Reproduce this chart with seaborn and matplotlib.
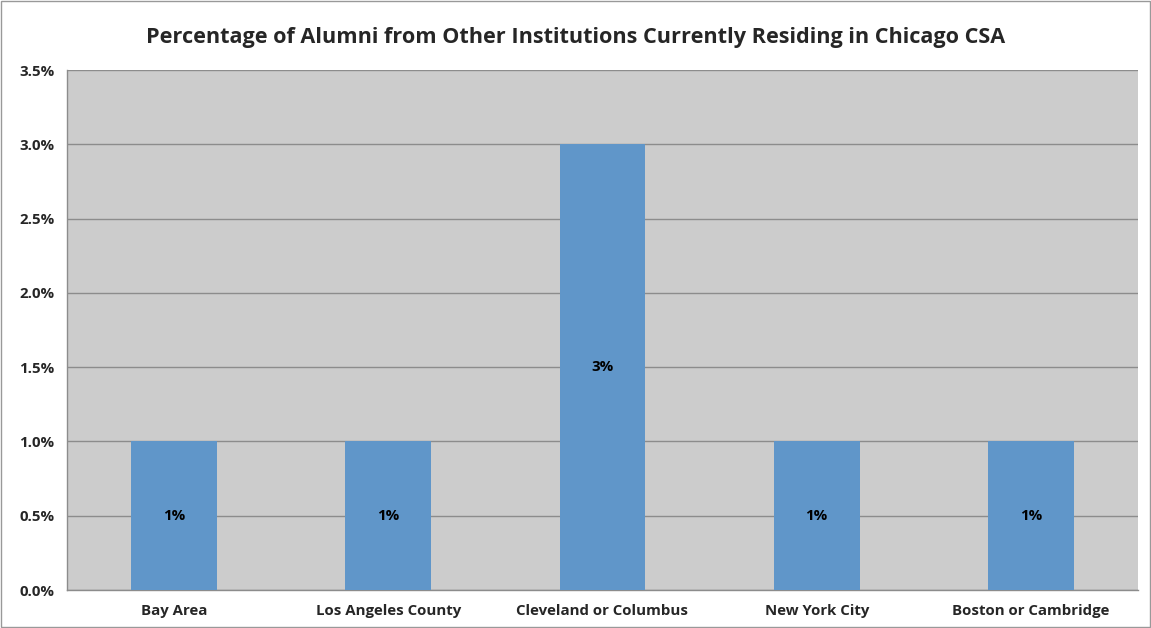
import matplotlib
matplotlib.use("Agg")
import matplotlib.pyplot as plt
import matplotlib.ticker as mticker
import seaborn as sns
import pandas as pd

# data
categories = ["Bay Area", "Los Angeles County", "Cleveland or Columbus",
              "New York City", "Boston or Cambridge"]
percent = [0.01, 0.01, 0.03, 0.01, 0.01]
bar_labels = ["1%", "1%", "3%", "1%", "1%"]

df = pd.DataFrame({"region": categories, "pct": percent})

sns.set_style("white")
plt.rcParams["font.family"] = ["Open Sans", "DejaVu Sans"]

fig = plt.figure(figsize=(11.51, 6.28), dpi=100)
ax = fig.add_axes([0.0582, 0.0605, 0.9305, 0.828])
ax.set_facecolor("#cccccc")

sns.barplot(data=df, x="region", y="pct", color="#6096c9", width=0.4,
            saturation=1, ax=ax, zorder=3, edgecolor="none", linewidth=0)

# labels in the middle of each bar
for i, (v, lab) in enumerate(zip(percent, bar_labels)):
    ax.text(i, v / 2, lab, ha="center", va="center", fontsize=10.8,
            fontweight="bold", color="black", zorder=4)

ax.set_ylim(0, 0.035)
ax.set_xlim(-0.5, 4.5)
ax.yaxis.set_major_locator(mticker.MultipleLocator(0.005))
ax.yaxis.set_major_formatter(mticker.FuncFormatter(lambda v, p: f"{v*100:.1f}%"))
ax.grid(axis="y", color="#8c8c8c", linewidth=1, zorder=1)
ax.set_axisbelow(True)

# tick marks between categories
ax.set_xticks(range(len(categories)))
ax.set_xticklabels(categories, fontsize=10.8, fontweight="bold")
ax.xaxis.set_minor_locator(mticker.FixedLocator([-0.5, 0.5, 1.5, 2.5, 3.5, 4.5]))
ax.tick_params(axis="x", which="major", length=0, pad=10)
ax.tick_params(axis="x", which="minor", length=5, color="#8c8c8c", direction="out")
ax.tick_params(axis="y", length=5, color="#8c8c8c", direction="out", labelsize=10.8, pad=4)
for t in ax.get_yticklabels():
    t.set_fontweight("bold")

ax.set_xlabel("")
ax.set_ylabel("")
for s in ["top", "right"]:
    ax.spines[s].set_visible(False)
for s in ["left", "bottom"]:
    ax.spines[s].set_color("#8c8c8c")
    ax.spines[s].set_linewidth(1)

fig.text(0.5, 0.94, "Percentage of Alumni from Other Institutions Currently Residing in Chicago CSA",
         ha="center", va="center", fontsize=15.6, fontweight="bold")

# thin frame round the figure
fig.patches.append(plt.Rectangle((0.001, 0.001), 0.998, 0.998, transform=fig.transFigure,
                                 fill=False, edgecolor="#999999", linewidth=1))

fig.savefig("out.png", dpi=100)
